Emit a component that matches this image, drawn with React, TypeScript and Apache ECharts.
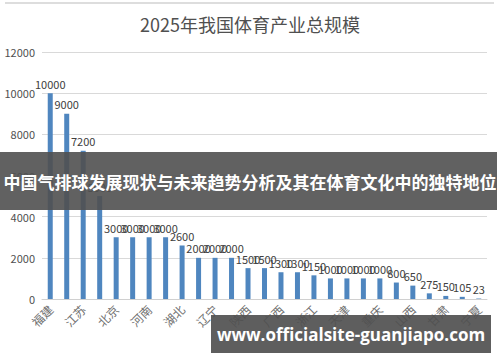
import React, { useEffect, useRef } from "react";
import * as echarts from "echarts";

const categories = [
  "福建", "广东", "江苏", "上海", "北京", "山东", "河南", "四川", "湖北",
  "湖南", "辽宁", "安徽", "陕西", "河北", "广西", "江西", "浙江", "云南",
  "天津", "贵州", "重庆", "吉林", "山西", "黑龙江", "甘肃", "新疆", "宁夏",
];
const values = [
  10000, 9000, 7200, 5000, 3000, 3000, 3000, 3000, 2600, 2000, 2000, 2000,
  1500, 1500, 1300, 1300, 1150, 1000, 1000, 1000, 1000, 800, 650, 275, 150,
  105, 23,
];
const titleText = "2025年我国体育产业总规模";
const bannerText = "中国气排球发展现状与未来趋势分析及其在体育文化中的独特地位";
const watermarkText = "www.officialsite-guanjiapo.com";

export default function App() {
  const ref = useRef<HTMLDivElement>(null);
  useEffect(() => {
    if (!ref.current) return;
    const chart = echarts.init(ref.current, undefined, { renderer: "svg" });
    chart.setOption({
      animation: false,
      backgroundColor: "#ffffff",
      textStyle: { fontFamily: "'Noto Sans CJK SC', 'Noto Sans', sans-serif" },
      title: {
        text: titleText,
        left: "center",
        top: 10,
        textStyle: { fontSize: 18, fontWeight: "normal", color: "#505050" },
      },
      grid: { left: 42, right: 13, top: 52, bottom: 63 },
      xAxis: {
        type: "category",
        data: categories,
        axisTick: { show: false },
        axisLine: { lineStyle: { color: "#d0d0d0" } },
        axisLabel: {
          interval: 1,
          rotate: 45,
          fontSize: 12,
          color: "#707070",
          margin: 8,
        },
      },
      yAxis: {
        type: "value",
        min: 0,
        max: 12000,
        interval: 2000,
        axisLabel: {
          fontSize: 11,
          color: "#505050",
          margin: 7,
          formatter: (v: number) => String(v),
        },
        splitLine: { lineStyle: { color: "#d9d9d9" } },
      },
      series: [
        {
          type: "bar",
          data: values,
          barWidth: 5,
          itemStyle: { color: "#4f86bf" },
          label: {
            show: true,
            position: "top",
            fontSize: 11,
            color: "#404040",
            distance: 4,
          },
        },
      ],
      graphic: [
        {
          type: "line",
          shape: { x1: 5, y1: 3, x2: 494, y2: 3 },
          style: { stroke: "#dddddd", lineWidth: 2 },
        },
        {
          type: "rect",
          shape: { x: 0, y: 152, width: 497, height: 58 },
          style: { fill: "rgba(80,80,80,0.9)" },
          z: 100,
        },
        {
          type: "text",
          x: 250,
          y: 181,
          style: {
            text: bannerText,
            fill: "#ffffff",
            fontSize: 17,
            fontWeight: "bold",
            fontFamily: "'Noto Sans CJK SC', sans-serif",
            align: "center",
            verticalAlign: "middle",
          },
          z: 101,
        },
        {
          type: "rect",
          shape: { x: 211, y: 315, width: 280, height: 38 },
          style: { fill: "rgba(80,80,80,0.92)" },
          z: 100,
        },
        {
          type: "text",
          x: 351,
          y: 334,
          style: {
            text: watermarkText,
            fill: "#ffffff",
            fontSize: 17,
            fontWeight: "bold",
            fontFamily: "'Open Sans', 'Noto Sans', sans-serif",
            align: "center",
            verticalAlign: "middle",
          },
          z: 101,
        },
      ],
    });
    return () => chart.dispose();
  }, []);
  return <div ref={ref} style={{ width: 500, height: 362, position: "absolute", left: 0, top: 0 }} />;
}
